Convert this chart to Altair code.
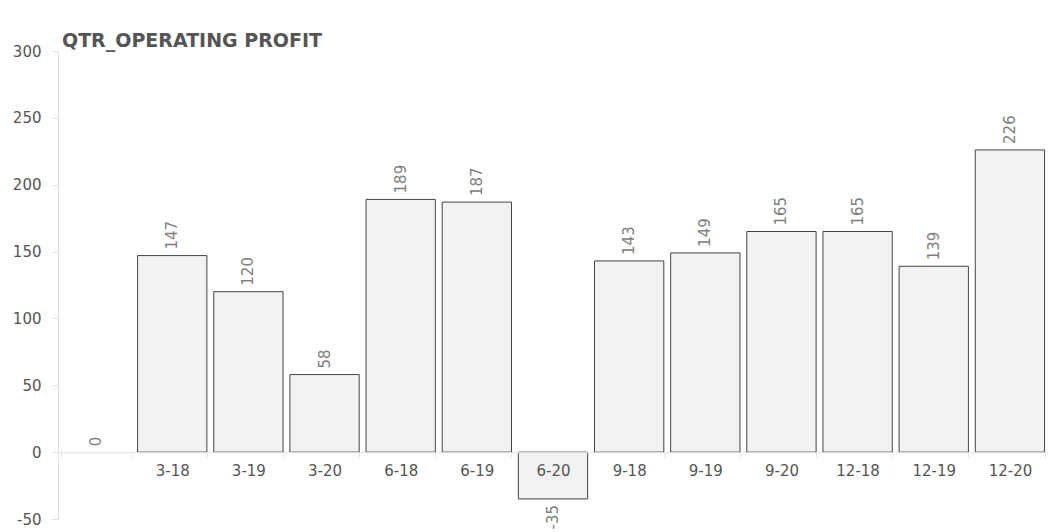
import altair as alt
import pandas as pd

categories = ["", "3-18", "3-19", "3-20", "6-18", "6-19", "6-20",
              "9-18", "9-19", "9-20", "12-18", "12-19", "12-20"]
values = [0, 147, 120, 58, 189, 187, -35, 143, 149, 165, 165, 139, 226]
y_ticks = [-50, 0, 50, 100, 150, 200, 250, 300]
title_text = "QTR_OPERATING PROFIT"

df = pd.DataFrame({"cat": categories, "value": values,
                   "label": [str(v) for v in values]})

Y_MIN, Y_MAX = -50, 300
W, H = 990, 468
FONT = "DejaVu Sans"

x_enc = alt.X(
    "cat:N",
    sort=categories,
    scale=alt.Scale(paddingInner=0.09, paddingOuter=0.045),
    axis=alt.Axis(
        title=None,
        labelAngle=0,
        offset=-H * (0 - Y_MIN) / (Y_MAX - Y_MIN),
        domainColor="#e3e3e3",
        tickColor="#e3e3e3",
        tickSize=5,
        tickBand="extent",
        labelPadding=6,
        labelFontSize=15,
        labelFont=FONT,
        labelColor="#555555",
        zindex=1,
    ),
)
y_enc = alt.Y(
    "value:Q",
    scale=alt.Scale(domain=[Y_MIN, Y_MAX], nice=False, zero=False),
    axis=alt.Axis(
        title=None,
        values=y_ticks,
        labelExpr="toString(datum.value)",
        grid=False,
        domainColor="#e0e0e0",
        tickColor="#e0e0e0",
        tickSize=6,
        labelPadding=11,
        labelFontSize=15,
        labelFont=FONT,
        labelColor="#555555",
    ),
)

base = alt.Chart(df)

bars = base.transform_filter("datum.value != 0").mark_bar(
    fill="#f2f2f2", stroke="#444444", strokeWidth=1
).encode(x=x_enc, y=y_enc)

pos_labels = base.transform_filter("datum.value >= 0").mark_text(
    angle=270, align="left", baseline="middle", dx=6,
    fontSize=15, font=FONT, color="#808080"
).encode(x=alt.X("cat:N", sort=categories), y="value:Q", text="label:N")

neg_labels = base.transform_filter("datum.value < 0").mark_text(
    angle=270, align="right", baseline="middle", dx=-6,
    fontSize=15, font=FONT, color="#808080"
).encode(x=alt.X("cat:N", sort=categories), y="value:Q", text="label:N")

chart = alt.layer(bars, pos_labels, neg_labels).properties(
    width=W,
    height=H,
    title=alt.TitleParams(
        title_text,
        anchor="start",
        frame="group",
        fontSize=19,
        font=FONT,
        fontWeight="bold",
        color="#555555",
        baseline="alphabetic",
        offset=-22,
        dx=4,
    ),
    autosize=alt.AutoSizeParams(type="none"),
    padding={"left": 50, "top": 43, "right": 0, "bottom": 13},
).configure_view(stroke=None)

chart.save("out.html", embed_options={"renderer": "svg", "actions": False})
